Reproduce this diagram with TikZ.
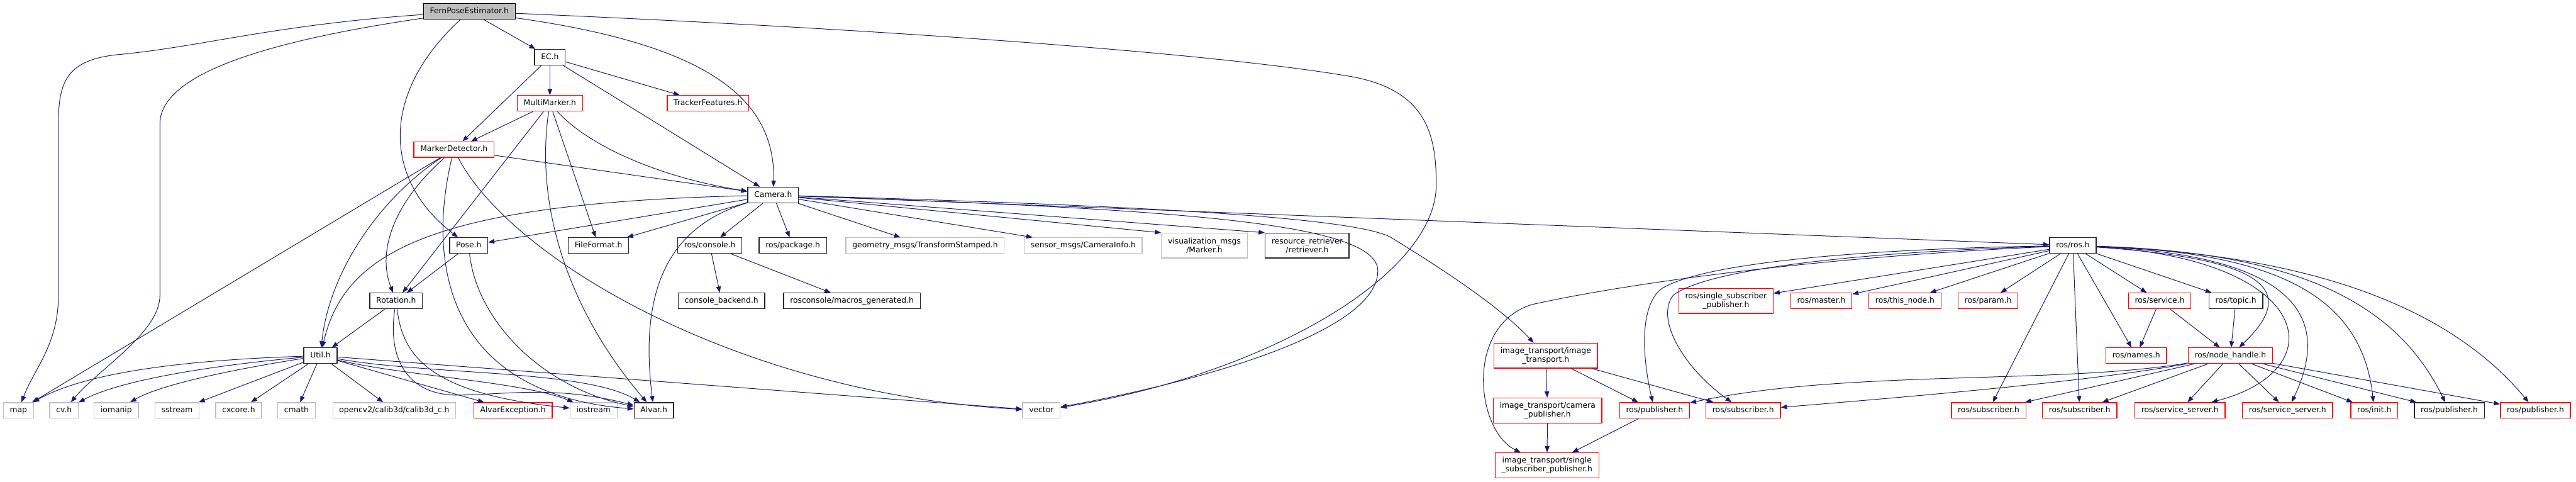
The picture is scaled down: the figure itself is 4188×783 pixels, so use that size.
\documentclass[tikz,border=0pt]{standalone}
\usepackage{fontspec}
\setmainfont{DejaVu Sans}
\usetikzlibrary{arrows.meta}
\definecolor{edgeblue}{HTML}{191970}
\definecolor{extgray}{HTML}{BFBFBF}
\definecolor{docline}{HTML}{262626}
\begin{document}
\begin{tikzpicture}[x=1pt, y=-1pt,
	filebox/.style={rectangle, draw, fill=white, line width=1.3pt,
		font=\fontsize{12.6}{15}\selectfont, inner xsep=10.5pt, inner ysep=0pt,
		minimum height=25.5pt, text height=9.4pt, text depth=2.9pt},
	rootbox/.style={filebox, fill=extgray, draw=black},
	docbox/.style={filebox, draw=docline},
	undocbox/.style={filebox, draw=red},
	extbox/.style={filebox, draw=extgray},
	twoline/.style={align=center, text height=, text depth=, minimum height=40.5pt},
	incl/.style={draw=edgeblue, line width=1pt, -{Triangle[length=10pt, width=7.5pt]}}
	]
	\useasboundingbox (0,0) rectangle (4188,783);

	% upper part of the include tree
	\node[rootbox] (fern) at (763,18.5) {FernPoseEstimator.h};
	\node[docbox] (ec) at (894,93) {EC.h};
	\node[undocbox] (multimarker) at (894,168) {MultiMarker.h};
	\node[undocbox] (tracker) at (1151,168) {TrackerFeatures.h};
	\node[undocbox] (detector) at (738,243) {MarkerDetector.h};
	\node[docbox] (camera) at (1257,317) {Camera.h};

	\node[docbox] (pose) at (762,399) {Pose.h};
	\node[docbox] (fileformat) at (973,399) {FileFormat.h};
	\node[docbox] (rosconsole) at (1154,399) {ros/console.h};
	\node[docbox] (rospackage) at (1289,399) {ros/package.h};
	\node[extbox] (geometry) at (1504,399) {geometry\_msgs/TransformStamped.h};
	\node[extbox] (sensor) at (1761,399) {sensor\_msgs/CameraInfo.h};
	\node[extbox, twoline] (visual) at (1958,399) {visualization\_msgs\\/Marker.h};
	\node[docbox, twoline] (retriever) at (2125,399) {resource\_retriever\\/retriever.h};
	\node[docbox] (rosros) at (3370,399) {ros/ros.h};

	\node[docbox] (rotation) at (644,489) {Rotation.h};
	\node[docbox] (backend) at (1173,489) {console\_backend.h};
	\node[docbox] (macros) at (1385,489) {rosconsole/macros\_generated.h};
	\node[undocbox, twoline] (singlesub) at (2806,489) {ros/single\_subscriber\\\_publisher.h};
	\node[undocbox] (master) at (2961,489) {ros/master.h};
	\node[undocbox] (thisnode) at (3097,489) {ros/this\_node.h};
	\node[undocbox] (param) at (3232,489) {ros/param.h};
	\node[undocbox] (service) at (3511,489) {ros/service.h};
	\node[docbox] (topic) at (3635,489) {ros/topic.h};

	\node[docbox] (util) at (521,578) {Util.h};
	\node[undocbox, twoline] (imagetransport) at (2513,578) {image\_transport/image\\\_transport.h};
	\node[undocbox] (names) at (3473,578) {ros/names.h};
	\node[undocbox] (nodehandle) at (3626,578) {ros/node\_handle.h};

	% bottom row
	\node[extbox] (map) at (30,667) {map};
	\node[extbox] (cvh) at (104,667) {cv.h};
	\node[extbox] (iomanip) at (189,667) {iomanip};
	\node[extbox] (sstream) at (288,667) {sstream};
	\node[extbox] (cxcore) at (388,667) {cxcore.h};
	\node[extbox] (cmath) at (482,667) {cmath};
	\node[extbox] (calib3d) at (641,667) {opencv2/calib3d/calib3d\_c.h};
	\node[undocbox] (alvarexc) at (834,667) {AlvarException.h};
	\node[extbox] (iostream) at (965,667) {iostream};
	\node[docbox] (alvar) at (1063,667) {Alvar.h};
	\node[extbox] (vector) at (1693,667) {vector};
	\node[undocbox, twoline] (camerapub) at (2516,667) {image\_transport/camera\\\_publisher.h};
	\node[undocbox] (publisherm) at (2690,667) {ros/publisher.h};
	\node[undocbox] (subscriberm) at (2834,667) {ros/subscriber.h};
	\node[undocbox] (subscribera) at (3233,667) {ros/subscriber.h};
	\node[undocbox] (subscriberb) at (3381,667) {ros/subscriber.h};
	\node[undocbox] (servera) at (3544,667) {ros/service\_server.h};
	\node[undocbox] (serverb) at (3719,667) {ros/service\_server.h};
	\node[undocbox] (init) at (3860,667) {ros/init.h};
	\node[docbox] (pubblack) at (3982,667) {ros/publisher.h};
	\node[undocbox] (pubred) at (4122,667) {ros/publisher.h};
	\node[undocbox, twoline] (singleimg) at (2515,756) {image\_transport/single\\\_subscriber\_publisher.h};

	% FernPoseEstimator.h
	\draw[incl] (fern) .. controls (450,40) and (330,75) .. (200,88) .. controls (110,95) and (95,130) .. (95,200) -- (95,480) .. controls (95,560) and (55,600) .. (map);
	\draw[incl] (fern) .. controls (480,60) and (262,110) .. (260,200) -- (260,480) .. controls (260,540) and (160,600) .. (cvh);
	\draw[incl] (fern) .. controls (620,150) and (620,290) .. (pose);
	\draw[incl] (fern) -- (ec);
	\draw[incl] (fern) .. controls (1130,70) and (1262,150) .. (camera);
	\draw[incl] (fern) .. controls (1500,50) and (2000,90) .. (2200,125) .. controls (2320,148) and (2335,220) .. (2335,300) .. controls (2335,450) and (2050,610) .. (vector);

	% EC.h and MultiMarker.h
	\draw[incl] (ec) -- (multimarker);
	\draw[incl] (ec) -- (detector);
	\draw[incl] (ec) -- (tracker);
	\draw[incl] (ec) -- (camera);
	\draw[incl] (multimarker) -- (detector);
	\draw[incl] (multimarker) .. controls (960,240) and (1080,290) .. (camera);
	\draw[incl] (multimarker) -- (fileformat);
	\draw[incl] (multimarker) -- (rotation);
	\draw[incl] (multimarker) .. controls (870,330) and (920,500) .. (alvar);

	% MarkerDetector.h
	\draw[incl] (detector) -- (camera);
	\draw[incl] (detector) -- (map);
	\draw[incl] (detector) .. controls (620,320) and (535,440) .. (util);
	\draw[incl] (detector) .. controls (650,320) and (610,400) .. (rotation);
	\draw[incl] (detector) .. controls (695,420) and (720,640) .. (alvar);
	\draw[incl] (detector) .. controls (830,420) and (1200,640) .. (vector);

	% Pose.h, Rotation.h
	\draw[incl] (pose) -- (rotation);
	\draw[incl] (pose) .. controls (775,520) and (880,630) .. (alvar);
	\draw[incl] (rotation) -- (util);
	\draw[incl] (rotation) .. controls (630,580) and (660,640) .. (740,642) .. controls (820,642) and (900,625) .. (alvar);
	\draw[incl] (rotation) .. controls (655,580) and (700,640) .. (iostream);

	% Util.h
	\draw[incl] (util) .. controls (300,585) and (140,605) .. (map);
	\draw[incl] (util) .. controls (330,595) and (190,620) .. (cvh);
	\draw[incl] (util) .. controls (380,600) and (260,625) .. (iomanip);
	\draw[incl] (util) -- (sstream);
	\draw[incl] (util) -- (cxcore);
	\draw[incl] (util) -- (cmath);
	\draw[incl] (util) -- (calib3d);
	\draw[incl] (util) -- (alvarexc);
	\draw[incl] (util) .. controls (650,610) and (850,620) .. (iostream);
	\draw[incl] (util) .. controls (700,610) and (950,600) .. (alvar);
	\draw[incl] (util) -- (vector);

	% Camera.h
	\draw[incl] (camera) -- (pose);
	\draw[incl] (camera) -- (fileformat);
	\draw[incl] (camera) .. controls (700,330) and (560,410) .. (util);
	\draw[incl] (camera) .. controls (1080,370) and (1040,480) .. (alvar);
	\draw[incl] (camera) -- (rosconsole);
	\draw[incl] (camera) -- (rospackage);
	\draw[incl] (camera) -- (geometry);
	\draw[incl] (camera) -- (sensor);
	\draw[incl] (camera) -- (visual.north west);
	\draw[incl] (camera) -- (retriever.north west);
	\draw[incl] (camera) -- (rosros);
	\draw[incl] (camera) .. controls (1900,340) and (2240,360) .. (2240,440) .. controls (2240,540) and (1950,620) .. (vector);
	\draw[incl] (camera) .. controls (1900,335) and (2200,355) .. (2260,385) .. controls (2350,440) and (2440,500) .. (imagetransport);
	\draw[incl] (rosconsole) -- (backend);
	\draw[incl] (rosconsole) -- (macros);

	% ros/ros.h
	\draw[incl] (rosros) -- (singlesub);
	\draw[incl] (rosros) -- (master);
	\draw[incl] (rosros) -- (thisnode);
	\draw[incl] (rosros) -- (param);
	\draw[incl] (rosros) -- (service);
	\draw[incl] (rosros) -- (topic);
	\draw[incl] (rosros) -- (names);
	\draw[incl] (rosros) .. controls (3680,420) and (3740,470) .. (nodehandle);
	\draw[incl] (rosros) -- (subscribera);
	\draw[incl] (rosros) -- (subscriberb);
	\draw[incl] (rosros) .. controls (3760,420) and (3800,600) .. (servera);
	\draw[incl] (rosros) .. controls (3740,415) and (3790,520) .. (serverb);
	\draw[incl] (rosros) .. controls (3700,410) and (3840,480) .. (init);
	\draw[incl] (rosros) .. controls (3750,410) and (3900,500) .. (pubblack);
	\draw[incl] (rosros) .. controls (3800,415) and (4000,520) .. (pubred);
	\draw[incl] (rosros) .. controls (3000,405) and (2760,430) .. (2700,470) .. controls (2665,500) and (2670,580) .. (publisherm);
	\draw[incl] (rosros) .. controls (3000,410) and (2770,440) .. (2720,480) .. controls (2690,520) and (2740,600) .. (subscriberm);
	\draw[incl] (rosros) .. controls (2900,420) and (2600,470) .. (2490,495) .. controls (2380,530) and (2400,700) .. (singleimg);

	\draw[incl] (service) -- (names);
	\draw[incl] (service) -- (nodehandle);
	\draw[incl] (topic) -- (nodehandle);

	% ros/node_handle.h
	\draw[incl] (nodehandle) .. controls (3350,625) and (3000,600) .. (publisherm);
	\draw[incl] (nodehandle) .. controls (3400,620) and (3100,645) .. (subscriberm);
	\draw[incl] (nodehandle) -- (subscribera);
	\draw[incl] (nodehandle) -- (subscriberb);
	\draw[incl] (nodehandle) -- (servera);
	\draw[incl] (nodehandle) -- (serverb);
	\draw[incl] (nodehandle) -- (init);
	\draw[incl] (nodehandle) -- (pubblack);
	\draw[incl] (nodehandle) -- (pubred);

	% image_transport
	\draw[incl] (imagetransport) -- (camerapub);
	\draw[incl] (imagetransport) -- (publisherm);
	\draw[incl] (imagetransport) -- (subscriberm);
	\draw[incl] (camerapub) -- (singleimg);
	\draw[incl] (publisherm) -- (singleimg);
\end{tikzpicture}
\end{document}
